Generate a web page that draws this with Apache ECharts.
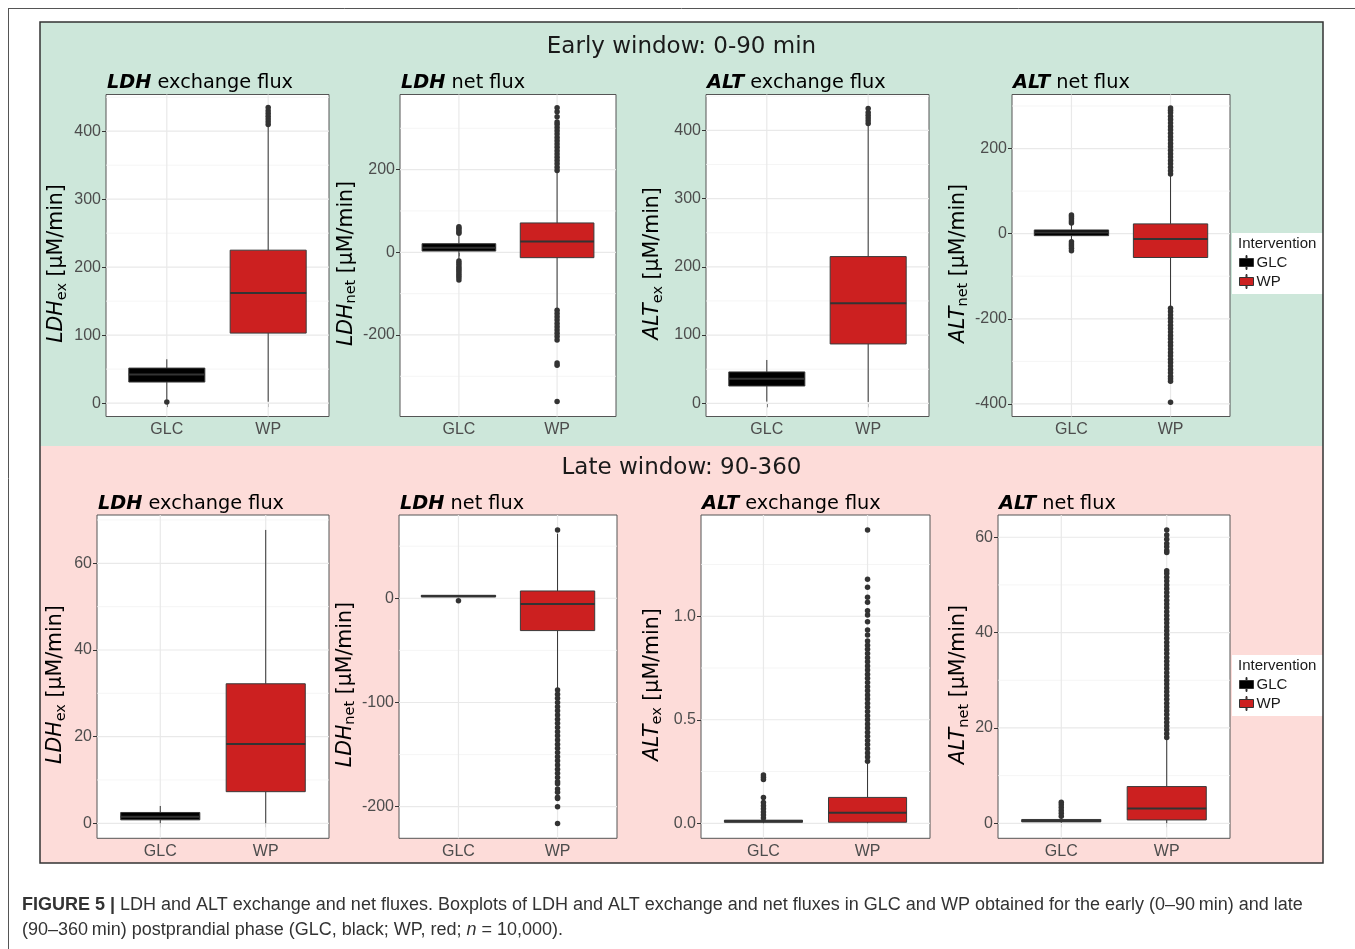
<!DOCTYPE html>
<html><head><meta charset="utf-8">
<script src="https://cdn.jsdelivr.net/npm/echarts@6/dist/echarts.min.js"></script>
<style>html,body{margin:0;padding:0;background:#fff}#c{width:1355px;height:949px}</style>
</head><body><div id="c"></div>
<script>
// ---------------- DATA ----------------
const categories = ['GLC', 'WP'];
// box stats: [lower whisker, Q1, median, Q3, upper whisker] for GLC, WP

// Early window: 0-90 min
const earlyLdhExBox = [[5, 31, 42, 51.5, 64.5], [2, 103, 162, 225, 408]];
const earlyLdhExOutGLC = [1.5];
const earlyLdhExOutWP = [410, 414, 418, 422, 426, 430, 435];
const earlyLdhExTicks = [0, 100, 200, 300, 400];
const earlyLdhExMinor = [50, 150, 250, 350, 450];

const earlyLdhNetBox = [[-18, 3, 11, 20.8, 42], [-135, -13, 26, 71, 195]];
const earlyLdhNetOutGLC = [46, 50, 54, 58, 62, -21, -26, -31, -36, -41, -46, -51, -56, -61, -67];
const earlyLdhNetOutWP = [198, 206, 214, 222, 230, 238, 246, 254, 262, 270, 278, 286, 294, 302, 310, 315, 328, 340, 350,
  -140, -148, -156, -164, -172, -180, -188, -196, -204, -212, -268, -273, -361];
const earlyLdhNetTicks = [-200, 0, 200];
const earlyLdhNetMinor = [-300, -100, 100, 300];

const earlyAltExBox = [[2.5, 25.4, 36, 46, 63.5], [2, 87, 146.5, 215, 408]];
const earlyAltExOutGLC = [];
const earlyAltExOutWP = [410, 414, 418, 422, 426, 432];
const earlyAltExTicks = [0, 100, 200, 300, 400];
const earlyAltExMinor = [50, 150, 250, 350, 450];

const earlyAltNetBox = [[-17, -4.7, 3, 8.7, 22], [-172, -56, -12.5, 23, 138]];
const earlyAltNetOutGLC = [25, 30, 35, 40, 44, -19, -24, -29, -34, -40];
const earlyAltNetOutWP = [140, 148, 156, 164, 172, 180, 188, 196, 204, 212, 220, 228, 236, 244, 252, 260, 268, 276, 284, 290, 295,
  -175, -183, -191, -199, -207, -215, -223, -231, -239, -247, -255, -263, -271, -279, -287, -295, -303, -311, -319,
  -327, -335, -341, -347, -396];
const earlyAltNetTicks = [-400, -200, 0, 200];
const earlyAltNetMinor = [-300, -100, 100, 300];

// Late window: 90-360
const lateLdhExBox = [[0, 0.8, 1.5, 2.5, 4], [0, 7.3, 18.3, 32.2, 67.7]];
const lateLdhExOutGLC = [];
const lateLdhExOutWP = [];
const lateLdhExTicks = [0, 20, 40, 60];
const lateLdhExMinor = [10, 30, 50, 70];

const lateLdhNetBox = [[1, 1.4, 1.9, 2.3, 2.7], [-86.5, -31, -5.5, 7, 62]];
const lateLdhNetOutGLC = [-2.3];
const lateLdhNetOutWP = [65.5, -88, -92, -96, -100, -104, -108, -112, -116, -120, -124, -128, -132, -136, -140, -144,
  -148, -152, -156, -160, -164, -168, -172, -176, -178, -183, -186, -191, -192, -200, -216];
const lateLdhNetTicks = [-200, -100, 0];
const lateLdhNetMinor = [-150, -50, 50];

const lateAltExBox = [[0, 0.005, 0.01, 0.015, 0.02], [0, 0.005, 0.051, 0.125, 0.297]];
const lateAltExOutGLC = [0.025, 0.04, 0.055, 0.07, 0.085, 0.1, 0.124, 0.212, 0.222, 0.233];
const lateAltExOutWP = [0.30, 0.32, 0.34, 0.36, 0.38, 0.40, 0.42, 0.44, 0.46, 0.48, 0.50, 0.52, 0.54, 0.56, 0.58,
  0.60, 0.62, 0.64, 0.66, 0.68, 0.70, 0.72, 0.74, 0.76, 0.78, 0.80, 0.82, 0.84, 0.86, 0.88,
  0.91, 0.934, 0.974, 1.006, 1.027, 1.068, 1.092, 1.14, 1.179, 1.417];
const lateAltExTicks = [0, 0.5, 1.0];
const lateAltExMinor = [0.25, 0.75, 1.25];

const lateAltNetBox = [[0.1, 0.3, 0.5, 0.8, 1.3], [0, 0.7, 3.1, 7.7, 17.8]];
const lateAltNetOutGLC = [1.5, 2.1, 2.7, 3.3, 3.9, 4.4];
const lateAltNetOutWP = [18, 18.8, 19.6, 20.4, 21.2, 22, 22.8, 23.6, 24.4, 25.2, 26, 26.8, 27.6, 28.4, 29.2, 30,
  30.8, 31.6, 32.4, 33.2, 34, 34.8, 35.6, 36.4, 37.2, 38, 38.8, 39.6, 40.4, 41.2, 42, 42.8, 43.6, 44.4, 45.2, 46,
  46.8, 47.6, 48.4, 49.2, 50, 50.8, 51.6, 52.4, 53, 56.8, 57.2, 58, 58.7, 59.6, 60.5, 61.5];
const lateAltNetTicks = [0, 20, 40, 60];
const lateAltNetMinor = [10, 30, 50];

// ---------------- LAYOUT ----------------
const FILL = ['#000000', '#cc2020'];
const TOPROW = {top: 94.5, height: 322};
const BOTROW = {top: 515, height: 323.3};
const panels = [
  {box: earlyLdhExBox, oG: earlyLdhExOutGLC, oW: earlyLdhExOutWP, ticks: earlyLdhExTicks, minor: earlyLdhExMinor,
   t: ['LDH', 'exchange flux'], yn: ['LDH', 'ex'], left: 106, width: 223, row: TOPROW, ymin: -19.7, ymax: 454, gap: 36.5},
  {box: earlyLdhNetBox, oG: earlyLdhNetOutGLC, oW: earlyLdhNetOutWP, ticks: earlyLdhNetTicks, minor: earlyLdhNetMinor,
   t: ['LDH', 'net flux'], yn: ['LDH', 'net'], left: 400, width: 216, row: TOPROW, ymin: -397.3, ymax: 381.8, gap: 39},
  {box: earlyAltExBox, oG: earlyAltExOutGLC, oW: earlyAltExOutWP, ticks: earlyAltExTicks, minor: earlyAltExMinor,
   t: ['ALT', 'exchange flux'], yn: ['ALT', 'ex'], left: 706, width: 223, row: TOPROW, ymin: -19.3, ymax: 452.5, gap: 40.5},
  {box: earlyAltNetBox, oG: earlyAltNetOutGLC, oW: earlyAltNetOutWP, ticks: earlyAltNetTicks, minor: earlyAltNetMinor,
   t: ['ALT', 'net flux'], yn: ['ALT', 'net'], left: 1012, width: 218, row: TOPROW, ymin: -429.6, ymax: 327, gap: 39},
  {box: lateLdhExBox, oG: lateLdhExOutGLC, oW: lateLdhExOutWP, ticks: lateLdhExTicks, minor: lateLdhExMinor,
   t: ['LDH', 'exchange flux'], yn: ['LDH', 'ex'], left: 97, width: 232, row: BOTROW, ymin: -3.46, ymax: 71.15, gap: 28.5},
  {box: lateLdhNetBox, oG: lateLdhNetOutGLC, oW: lateLdhNetOutWP, ticks: lateLdhNetTicks, minor: lateLdhNetMinor,
   t: ['LDH', 'net flux'], yn: ['LDH', 'net'], left: 399, width: 218, row: BOTROW, ymin: -230.3, ymax: 79.9, gap: 38},
  {box: lateAltExBox, oG: lateAltExOutGLC, oW: lateAltExOutWP, ticks: lateAltExTicks, minor: lateAltExMinor,
   t: ['ALT', 'exchange flux'], yn: ['ALT', 'ex'], left: 701, width: 229, row: BOTROW, ymin: -0.0725, ymax: 1.489, gap: 36, fmt: v => v.toFixed(1)},
  {box: lateAltNetBox, oG: lateAltNetOutGLC, oW: lateAltNetOutWP, ticks: lateAltNetTicks, minor: lateAltNetMinor,
   t: ['ALT', 'net flux'], yn: ['ALT', 'net'], left: 998, width: 232, row: BOTROW, ymin: -3.15, ymax: 64.67, gap: 25}
];

const XMIN = 0.4, XMAX = 2.6, BOXW = 0.75;
const grids = [], xAxes = [], yAxes = [], series = [], graphics = [];

function boxRender(params, api) {
  const x = api.value(0);
  const lo = api.coord([x, api.value(1)]);
  const q1 = api.coord([x, api.value(2)]);
  const md = api.coord([x, api.value(3)]);
  const q3 = api.coord([x, api.value(4)]);
  const hi = api.coord([x, api.value(5)]);
  const hw = api.size([BOXW, 0])[0] / 2;
  const fill = api.visual('color');
  const line = '#333333';
  const h = Math.max(q1[1] - q3[1], 1.5);
  return {type: 'group', children: [
    {type: 'line', shape: {x1: hi[0], y1: hi[1], x2: q3[0], y2: q3[1]}, style: {stroke: line, lineWidth: 1}},
    {type: 'line', shape: {x1: q1[0], y1: q1[1], x2: lo[0], y2: lo[1]}, style: {stroke: line, lineWidth: 1}},
    {type: 'rect', shape: {x: md[0] - hw, y: q1[1] - h, width: 2 * hw, height: h}, style: {fill: fill, stroke: '#3a3a3a', lineWidth: 1}},
    {type: 'line', shape: {x1: md[0] - hw, y1: md[1], x2: md[0] + hw, y2: md[1]}, style: {stroke: line, lineWidth: 2}}
  ]};
}

panels.forEach((p, i) => {
  grids.push({left: p.left, top: p.row.top, width: p.width, height: p.row.height, show: true,
    backgroundColor: '#ffffff', borderColor: '#555555', borderWidth: 1, containLabel: false, outerBoundsMode: 'none'});
  xAxes.push({gridIndex: i, type: 'value', min: XMIN, max: XMAX,
    axisLine: {show: false}, splitLine: {show: false},
    axisTick: {show: true, customValues: [1, 2], length: 4, lineStyle: {color: '#333'}},
    axisLabel: {customValues: [1, 2], formatter: v => categories[Math.round(v) - 1], color: '#4d4d4d',
      fontSize: 16, fontFamily: 'Liberation Sans', margin: 5}});
  yAxes.push({gridIndex: i, type: 'value', min: p.ymin, max: p.ymax,
    axisLine: {show: false}, splitLine: {show: false},
    axisTick: {show: true, customValues: p.ticks, length: 4, lineStyle: {color: '#333'}},
    axisLabel: {customValues: p.ticks, formatter: p.fmt || (v => String(v)), color: '#4d4d4d',
      fontSize: 16, fontFamily: 'Liberation Sans', margin: 5},
    name: '{i|' + p.yn[0] + '}{s|' + p.yn[1] + '}{r| [µM/min]}',
    nameLocation: 'middle', nameRotate: 90, nameGap: p.gap,
    nameTextStyle: {color: '#000', padding: [0, 16, 0, 0], rich: {
      i: {fontFamily: 'DejaVu Sans', fontSize: 20.5, fontStyle: 'italic', color: '#000'},
      s: {fontFamily: 'DejaVu Sans', fontSize: 14.5, color: '#000', padding: [10, 0, 0, 0]},
      r: {fontFamily: 'DejaVu Sans', fontSize: 20.5, color: '#000'}
    }}});
  // grid lines
  const gl = p.ticks.map(v => [0, v]).concat(p.minor.map(v => [1, v])).concat([[2, 1], [2, 2]]);
  series.push({type: 'custom', name: 'grid' + i, xAxisIndex: i, yAxisIndex: i, silent: true, z: 1,
    data: gl, encode: {x: -1, y: -1},
    renderItem: (params, api) => {
      const t = api.value(0), v = api.value(1);
      let a, b;
      if (t === 2) { a = api.coord([v, p.ymin]); b = api.coord([v, p.ymax]); }
      else { a = api.coord([XMIN, v]); b = api.coord([XMAX, v]); }
      return {type: 'line', shape: {x1: a[0], y1: a[1], x2: b[0], y2: b[1]},
        style: {stroke: t === 1 ? '#f3f3f3' : '#e9e9e9', lineWidth: t === 1 ? 0.8 : 1.2}};
    }});
  categories.forEach((c, k) => {
    series.push({type: 'custom', name: c, xAxisIndex: i, yAxisIndex: i, z: 3,
      itemStyle: {color: FILL[k]},
      data: [[k + 1].concat(p.box[k])],
      encode: {x: 0, y: [1, 2, 3, 4, 5]},
      renderItem: boxRender});
  });
  series.push({type: 'scatter', name: 'outliers' + i, xAxisIndex: i, yAxisIndex: i, z: 4, silent: true,
    symbolSize: 5.5, itemStyle: {color: '#333333', opacity: 1},
    data: p.oG.map(v => [1, v]).concat(p.oW.map(v => [2, v]))});
  // panel title
  graphics.push({type: 'text', z: 100, x: p.left + 1, y: p.row === TOPROW ? 82.5 : 503.5,
    style: {text: '{b|' + p.t[0] + '}{r| ' + p.t[1] + '}', verticalAlign: 'middle', align: 'left',
      rich: {b: {fontFamily: 'DejaVu Sans', fontSize: 19.3, fontWeight: 'bold', fontStyle: 'italic', fill: '#000'},
             r: {fontFamily: 'DejaVu Sans', fontSize: 19.3, fill: '#000'}}}});
});

// backgrounds and frames
graphics.unshift(
  {type: 'rect', z: -10, shape: {x: 40, y: 22, width: 1283, height: 424}, style: {fill: '#cde7da'}},
  {type: 'rect', z: -10, shape: {x: 40, y: 446, width: 1283, height: 417}, style: {fill: '#fddcd9'}},
  {type: 'rect', z: 50, shape: {x: 40, y: 22, width: 1283, height: 841}, style: {fill: 'none', stroke: '#333', lineWidth: 1.5}},
  {type: 'line', z: 50, shape: {x1: 8, y1: 8.5, x2: 1355, y2: 8.5}, style: {stroke: '#555', lineWidth: 1}},
  {type: 'line', z: 50, shape: {x1: 8.5, y1: 8, x2: 8.5, y2: 949}, style: {stroke: '#555', lineWidth: 1}}
);
// window titles
graphics.push(
  {type: 'text', z: 100, x: 681.5, y: 47.5, style: {text: 'Early window: 0-90 min', align: 'center', verticalAlign: 'middle',
    fontFamily: 'DejaVu Sans', fontSize: 23, fill: '#1a1a1a'}},
  {type: 'text', z: 100, x: 681.5, y: 468.5, style: {text: 'Late window: 90-360', align: 'center', verticalAlign: 'middle',
    fontFamily: 'DejaVu Sans', fontSize: 23, fill: '#1a1a1a'}}
);
// legend backgrounds and titles
[233, 655].forEach(y0 => {
  graphics.push(
    {type: 'rect', z: 20, shape: {x: 1232, y: y0, width: 91, height: 61}, style: {fill: '#ffffff'}},
    {type: 'text', z: 100, x: 1238, y: y0 + 11, style: {text: 'Intervention', verticalAlign: 'middle',
      fontFamily: 'Liberation Sans', fontSize: 15, fill: '#1a1a1a'}}
  );
});
// caption
const capRich = {
  b: {fontFamily: 'Liberation Sans', fontSize: 18, fontWeight: 'bold', fill: '#333333'},
  r: {fontFamily: 'Liberation Sans', fontSize: 18, fill: '#333333'},
  i: {fontFamily: 'Liberation Sans', fontSize: 18, fontStyle: 'italic', fill: '#333333'}
};
graphics.push(
  {type: 'text', z: 100, x: 22, y: 905, style: {verticalAlign: 'middle', rich: capRich,
    text: '{b|FIGURE 5 |}{r| LDH and ALT exchange and net fluxes. Boxplots of LDH and ALT exchange and net fluxes in GLC and WP obtained for the early (0–90\u2009min) and late}'}},
  {type: 'text', z: 100, x: 22, y: 930, style: {verticalAlign: 'middle', rich: capRich,
    text: '{r|(90–360\u2009min) postprandial phase (GLC, black; WP, red; }{i|n}{r| = 10,000).}'}}
);

const legendBase = {data: categories, orient: 'vertical', left: 1239, itemWidth: 14, itemHeight: 14, itemGap: 4,
  padding: 0, selectedMode: false,
  icon: 'path://M6.5,0h1v3h-1z M0,3h14v8H0z M6.5,11h1v3h-1z',
  itemStyle: {borderColor: '#333', borderWidth: 1},
  textStyle: {fontFamily: 'Liberation Sans', fontSize: 15, color: '#1a1a1a', padding: [0, 0, 0, -2]}};

const chart = echarts.init(document.getElementById('c'), null, {renderer: 'canvas'});
chart.setOption({
  animation: false,
  backgroundColor: '#ffffff',
  grid: grids, xAxis: xAxes, yAxis: yAxes, series: series,
  legend: [Object.assign({top: 255, z: 30}, legendBase), Object.assign({top: 677, z: 30}, legendBase)],
  graphic: {elements: graphics}
});
</script></body></html>
